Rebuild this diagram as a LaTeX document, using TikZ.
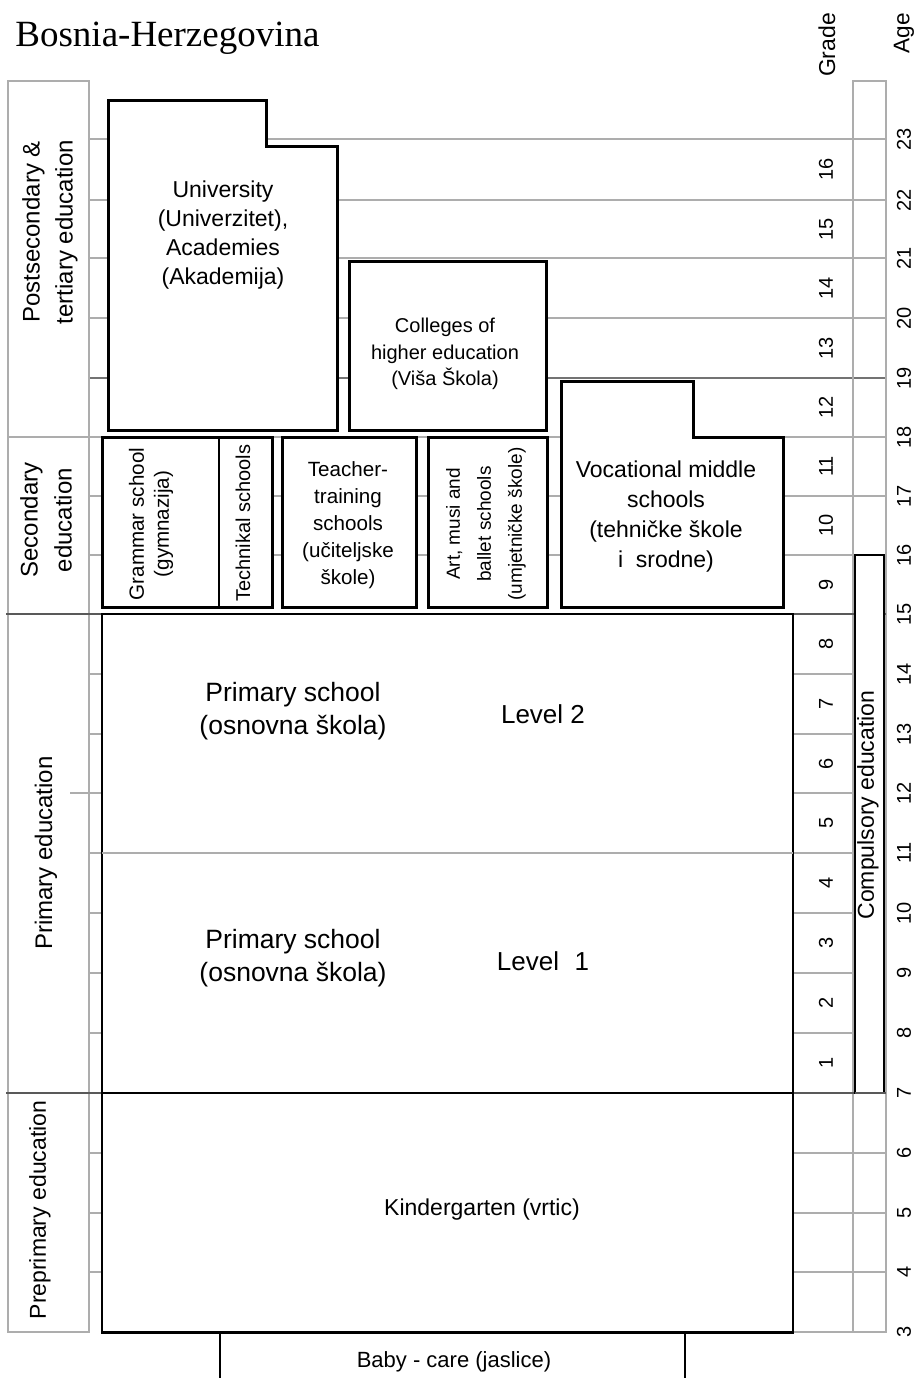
\documentclass[tikz,border=0pt]{standalone}
\usepackage{fontspec}
\setmainfont{Liberation Sans}
\newfontfamily\titlefont{Liberation Serif}
\newcommand\fsz[2]{\fontsize{#1}{#2}\selectfont}
\begin{document}
\begin{tikzpicture}[x=0.5pt,y=-0.5pt,
  grid/.style={draw=black!32, line width=0.6pt},
  darkgrid/.style={draw=black!55, line width=0.8pt},
  sepline/.style={draw=black!65, line width=1.4pt},
  thickbox/.style={draw=black, line width=1.5pt, fill=white, line join=miter},
  thinbox/.style={draw=black, line width=1pt, fill=white},
  lbl/.style={align=center, inner sep=0pt, text=black},
  rot/.style={lbl, rotate=90}
]
\useasboundingbox (0,0) rectangle (920,1378);
\fill[white] (0,0) rectangle (920,1378);

% ---- grid lines at each age level
\foreach \yy in {139,200,258,318,496,555,674,734,793,853,913,973,1033,1153,1213,1272}
  \draw[grid] (89,\yy) -- (886,\yy);
\draw[grid] (70,793) -- (89,793);
\draw[darkgrid] (89,378) -- (886,378);
\draw[grid] (8,437) -- (886,437);
% column frames
\draw[grid] (8,81) rectangle (89,1332);
\draw[grid] (853,81) rectangle (886,1332);
\draw[grid] (793,1332) -- (853,1332);
% section separators
\draw[sepline] (6,614) -- (886,614);
\draw[sepline] (6,1093) -- (886,1093);

% ---- tertiary
\draw[thickbox] (108,100) -- (266,100) -- (266,146) -- (337,146) -- (337,430) -- (108,430) -- cycle;
\node[lbl, font=\fsz{11.5}{14.5}] (univ) at (223,235) {University\\(Univerzitet),\\Academies\\(Akademija)};
\draw[thickbox] (349,261) rectangle (546,430);
\node[lbl, font=\fsz{10}{13.25}] (coll) at (445,354) {Colleges of\\higher education\\(Viša Škola)};
\draw[thickbox] (561,381) -- (693,381) -- (693,437) -- (783,437) -- (783,607) -- (561,607) -- cycle;
\node[lbl, font=\fsz{11.5}{15}] (voc) at (666,517) {Vocational middle\\schools\\(tehničke škole\\i\hspace{0.55em}srodne)};

% ---- secondary
\draw[thickbox] (102,437) rectangle (272,607);
\draw[black, line width=0.8pt] (219,437) -- (219,607);
\node[rot, font=\fsz{10.3}{12.5}] (gram) at (151,524) {Grammar school\\(gymnazija)};
\node[rot, font=\fsz{10}{12}] (tech) at (243,523) {Technikal schools};
\draw[thickbox] (282,437) rectangle (416,607);
\node[lbl, font=\fsz{10.3}{13.5}] (teach) at (348,525) {Teacher-\\training\\schools\\(učiteljske\\škole)};
\draw[thickbox] (428,437) rectangle (547,607);
\node[rot, font=\fsz{9.5}{15.5}] (art) at (486,524) {Art, musi and\\ballet schools\\(umjetničke škole)};

% ---- primary
\draw[thinbox] (102,614) rectangle (793,1093);
\draw[grid] (102,853) -- (793,853);
\node[lbl, font=\fsz{13.25}{16.5}] (prim2) at (293,711) {Primary school\\(osnovna škola)};
\node[lbl, font=\fsz{13}{16}] (lev2) at (543,714) {Level 2};
\node[lbl, font=\fsz{13.25}{16.5}] (prim1) at (293,958) {Primary school\\(osnovna škola)};
\node[lbl, font=\fsz{13}{16}] (lev1) at (543,961) {Level\hspace{0.6em}1};

% ---- preprimary
\draw[thinbox] (102,1093) rectangle (793,1332);
\draw[black, line width=1.5pt] (101,1332) -- (794,1332);
\node[lbl, font=\fsz{11.5}{14}] (kind) at (482,1210) {Kindergarten (vrtic)};
\draw[black, line width=0.6pt] (220,1332) -- (220,1378);
\draw[black, line width=0.6pt] (685,1332) -- (685,1378);
\node[lbl, font=\fsz{11}{13}] (baby) at (454,1362) {Baby - care (jaslice)};

% ---- compulsory
\draw[thinbox] (855,555) rectangle (884,1093);
\draw[sepline] (855,1093) -- (886,1093);
\node[rot, font=\fsz{11.5}{14}] (comp) at (868,805) {Compulsory education};

% ---- side labels
\node[rot, font=\fsz{12}{16.5}] (lpost) at (50,232) {Postsecondary \&\\tertiary education};
\node[rot, font=\fsz{12}{17}] (lsec) at (46,520) {Secondary\\education};
\node[rot, font=\fsz{12}{14}] (lprim) at (46,853) {Primary education};
\node[rot, font=\fsz{11.5}{14}] (lpre) at (40,1210) {Preprimary education};

% ---- title and headers
\node[lbl, anchor=base west, font=\titlefont\fsz{18.5}{22}] (title) at (15,46) {Bosnia-Herzegovina};
\node[rot, font=\fsz{11.5}{14}] (grade) at (827,45) {Grade};
\node[rot, font=\fsz{11.3}{14}] (age) at (904,33) {Age};

% ---- grade numbers
\foreach \g/\yy in {16/169.5,15/229,14/288,13/348,12/407.5,11/466.5,10/525.5,9/584.5,8/644,7/704,6/763.5,5/823,4/883,3/943,2/1003,1/1063}
  \node[rot, font=\fsz{10}{12}] (g\g) at (826,\yy) {\g};
% ---- age numbers
\foreach \a/\yy in {23/139,22/200,21/258,20/318,19/378,18/437,17/496,16/555,15/614,14/674,13/734,12/793,11/853,10/913,9/973,8/1033,7/1093,6/1153,5/1213,4/1272,3/1332}
  \node[rot, font=\fsz{10}{12}] (a\a) at (904,\yy) {\a};
\end{tikzpicture}
\end{document}
